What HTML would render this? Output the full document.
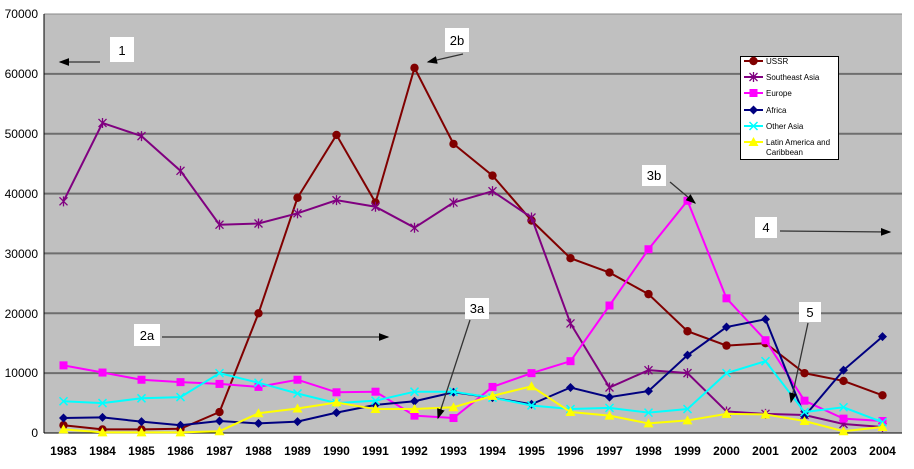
<!DOCTYPE html>
<html><head><meta charset="utf-8"><style>
body{margin:0;background:#fff;}
svg text{font-family:"Liberation Sans",Arial,sans-serif;}
</style></head><body>
<svg id="c" width="914" height="464" xmlns="http://www.w3.org/2000/svg">
<rect x="44" y="14" width="858" height="419" fill="#c0c0c0"/>
<g stroke="#6e6e6e" stroke-width="2">
<line x1="44" y1="73.9" x2="902" y2="73.9"/><line x1="44" y1="133.7" x2="902" y2="133.7"/>
<line x1="44" y1="193.6" x2="902" y2="193.6"/><line x1="44" y1="253.4" x2="902" y2="253.4"/>
<line x1="44" y1="313.3" x2="902" y2="313.3"/><line x1="44" y1="373.1" x2="902" y2="373.1"/>
</g>
<line x1="44" y1="14" x2="902" y2="14" stroke="#888" stroke-width="1"/>
<line x1="44" y1="14" x2="44" y2="433" stroke="#000" stroke-width="1"/>
<line x1="44" y1="433" x2="902" y2="433" stroke="#000" stroke-width="1"/>
<g font-size="12" text-anchor="end" fill="#000">
<text x="38" y="18">70000</text><text x="38" y="78">60000</text><text x="38" y="138">50000</text>
<text x="38" y="198">40000</text><text x="38" y="258">30000</text><text x="38" y="318">20000</text>
<text x="38" y="377">10000</text><text x="38" y="437">0</text>
</g>
<g font-size="12" text-anchor="middle" font-weight="bold" fill="#000" id="xl">
<text x="63.5" y="455">1983</text><text x="102.5" y="455">1984</text><text x="141.5" y="455">1985</text><text x="180.5" y="455">1986</text><text x="219.5" y="455">1987</text><text x="258.5" y="455">1988</text><text x="297.5" y="455">1989</text><text x="336.5" y="455">1990</text><text x="375.5" y="455">1991</text><text x="414.5" y="455">1992</text><text x="453.5" y="455">1993</text><text x="492.5" y="455">1994</text><text x="531.5" y="455">1995</text><text x="570.5" y="455">1996</text><text x="609.5" y="455">1997</text><text x="648.5" y="455">1998</text><text x="687.5" y="455">1999</text><text x="726.5" y="455">2000</text><text x="765.5" y="455">2001</text><text x="804.5" y="455">2002</text><text x="843.5" y="455">2003</text><text x="882.5" y="455">2004</text>
</g>
<g id="series"></g>
<!-- annotations -->
<g font-size="13" fill="#000" text-anchor="middle">
<rect x="110" y="37" width="24" height="25" fill="#fff"/><text x="122" y="55">1</text>
<rect x="445" y="28" width="24" height="24" fill="#fff"/><text x="457" y="45">2b</text>
<rect x="134" y="324" width="26" height="22" fill="#fff"/><text x="147" y="340">2a</text>
<rect x="465" y="298" width="24" height="21" fill="#fff"/><text x="477" y="313">3a</text>
<rect x="642" y="165" width="24" height="21" fill="#fff"/><text x="654" y="180">3b</text>
<rect x="755" y="217" width="22" height="21" fill="#fff"/><text x="766" y="232">4</text>
<rect x="799" y="302" width="22" height="20" fill="#fff"/><text x="810" y="317">5</text>
</g>
<defs><marker id="ah" markerWidth="8" markerHeight="6" refX="7" refY="3" orient="auto"><path d="M0,0 L8,3 L0,6z" fill="#000"/></marker></defs>
<g stroke="#333" stroke-width="1.3" marker-end="url(#ah)">
<line x1="100" y1="62" x2="60" y2="62"/>
<line x1="463" y1="54" x2="428" y2="62"/>
<line x1="162" y1="337" x2="388" y2="337"/>
<line x1="470" y1="320" x2="438" y2="418"/>
<line x1="670" y1="182" x2="695" y2="203"/>
<line x1="780" y1="231" x2="890" y2="232"/>
<line x1="808" y1="323" x2="791" y2="402"/>
</g>
<!-- legend -->
<g>
<rect x="740.5" y="56.5" width="98" height="103" fill="#fff" stroke="#000"/>
<g font-size="8" fill="#000">
<text x="766" y="64">USSR</text><text x="766" y="80">Southeast Asia</text><text x="766" y="96">Europe</text>
<text x="766" y="113">Africa</text><text x="766" y="129">Other Asia</text>
<text x="766" y="145">Latin America and</text><text x="766" y="155">Caribbean</text>
</g>
<g id="leg"></g>
</g>
</svg>
<script>
var S=[
["#800000","circle",[1300,600,600,700,3500,20000,39300,49800,38500,61000,48300,43000,35500,29200,26800,23200,17000,14600,15000,10000,8700,6300]],
["#800080","star",[38700,51800,49600,43800,34800,35000,36700,38900,37800,34300,38500,40400,36000,18300,7600,10500,10000,3600,3200,3000,1500,1000]],
["#ff00ff","square",[11300,10100,8900,8500,8200,7700,8900,6800,6900,2900,2500,7700,10000,12000,21300,30700,38800,22500,15500,5400,2400,2000]],
["#000080","diamond",[2500,2600,1900,1300,2000,1600,1900,3400,4700,5300,6800,5900,4800,7600,6000,7000,13000,17700,19000,2800,10500,16100]],
["#00ffff","x",[5300,5000,5800,6000,10000,8400,6600,5000,5400,6900,6900,5900,4600,4000,4200,3400,4000,10000,12000,3500,4300,1800]],
["#ffff00","tri",[600,100,100,100,300,3300,4100,5100,4000,4000,4300,6200,7800,3500,2900,1600,2100,3200,3100,2000,300,1000]]];
var NS="http://www.w3.org/2000/svg";
function el(t,a,p){var e=document.createElementNS(NS,t);for(var k in a)e.setAttribute(k,a[k]);p.appendChild(e);return e;}
function mk(type,c,x,y,p){
 if(type=="circle")el("circle",{cx:x,cy:y,r:4.2,fill:c},p);
 else if(type=="square")el("rect",{x:x-4,y:y-4,width:8,height:8,fill:c},p);
 else if(type=="diamond")el("path",{d:"M"+x+","+(y-4.5)+"L"+(x+4.5)+","+y+"L"+x+","+(y+4.5)+"L"+(x-4.5)+","+y+"z",fill:c},p);
 else if(type=="tri")el("path",{d:"M"+x+","+(y-5)+"L"+(x+5)+","+(y+4)+"L"+(x-5)+","+(y+4)+"z",fill:c},p);
 else if(type=="x"){el("path",{d:"M"+(x-4)+","+(y-4)+"L"+(x+4)+","+(y+4)+"M"+(x+4)+","+(y-4)+"L"+(x-4)+","+(y+4),stroke:c,"stroke-width":1.5},p);}
 else {el("path",{d:"M"+(x-4)+","+(y-4)+"L"+(x+4)+","+(y+4)+"M"+(x+4)+","+(y-4)+"L"+(x-4)+","+(y+4)+"M"+x+","+(y-5)+"L"+x+","+(y+5),stroke:c,"stroke-width":1.3},p);}
}
var g=document.getElementById("series");
S.forEach(function(s){
 var pts=s[2].map(function(v,i){return [63.5+39*i,433-v*419/70000];});
 el("polyline",{points:pts.map(function(p){return p.join(",")}).join(" "),fill:"none",stroke:s[0],"stroke-width":2},g);
 pts.forEach(function(p){mk(s[1],s[0],p[0],p[1],g);});
});
var lg=document.getElementById("leg");var ly=[61,77,93,110,126,142];
S.forEach(function(s,i){el("line",{x1:744,y1:ly[i],x2:763,y2:ly[i],stroke:s[0],"stroke-width":2},lg);mk(s[1],s[0],753.5,ly[i],lg);});
</script>
</body></html>
